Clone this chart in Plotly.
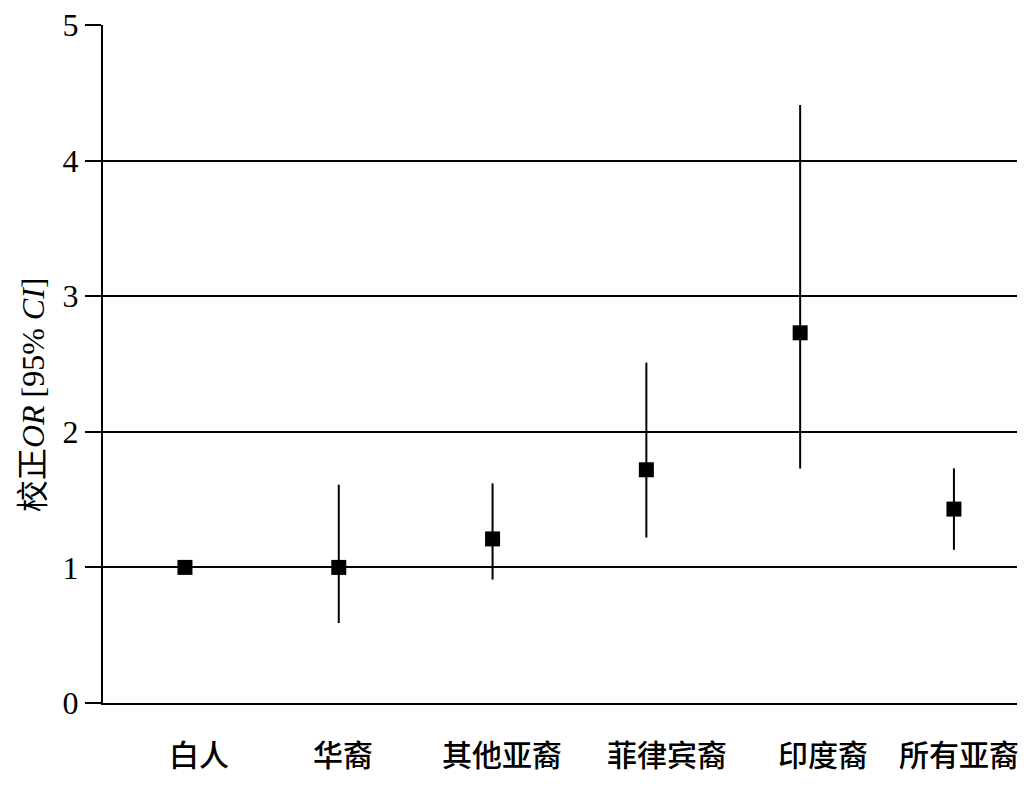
import plotly.graph_objects as go

categories = ["白人", "华裔", "其他亚裔", "菲律宾裔", "印度裔", "所有亚裔"]
or_values = [1.00, 1.00, 1.21, 1.72, 2.73, 1.43]
ci_lower = [1.00, 0.59, 0.91, 1.22, 1.73, 1.13]
ci_upper = [1.00, 1.61, 1.62, 2.51, 4.41, 1.73]
y_ticks = [0, 1, 2, 3, 4, 5]
label_shift = [14, 4, 9, 21, 23, 5]

err_plus = [u - v for u, v in zip(ci_upper, or_values)]
err_minus = [v - l for v, l in zip(or_values, ci_lower)]
xi = list(range(len(categories)))

fig = go.Figure()
fig.add_trace(go.Scatter(
    x=xi, y=or_values, mode="markers",
    marker=dict(symbol="square", size=15, color="black"),
    error_y=dict(type="data", symmetric=False, array=err_plus, arrayminus=err_minus,
                 color="black", thickness=2, width=0),
    showlegend=False,
))

annotations = [dict(
    text="校正<i>OR</i> [95% <i>CI</i>]", textangle=-90,
    xref="paper", yref="paper", x=-0.077, y=0.455, xanchor="center", yanchor="middle",
    showarrow=False,
    font=dict(family="Liberation Serif, Noto Sans CJK SC", size=32, color="black"),
)]
for i, (c, s) in enumerate(zip(categories, label_shift)):
    annotations.append(dict(
        text=c, x=i, y=0, xref="x", yref="paper", xanchor="center", yanchor="middle",
        xshift=s, yshift=-50, showarrow=False,
        font=dict(family="Noto Sans CJK SC", size=30, color="black", weight=500),
    ))

fig.update_layout(
    width=1021, height=780,
    margin=dict(l=95, r=12, t=17, b=85, autoexpand=False),
    paper_bgcolor="white", plot_bgcolor="white",
    xaxis=dict(
        range=[-0.533, 5.41], tickmode="array", tickvals=xi, showticklabels=False,
        showgrid=False, zeroline=False, showline=True, linecolor="black", linewidth=2,
        ticks="", automargin=False,
    ),
    yaxis=dict(
        range=[0, 5], tickmode="array", tickvals=y_ticks,
        showgrid=True, gridcolor="black", gridwidth=2,
        zeroline=False, showline=True, linecolor="black", linewidth=2,
        ticks="outside", ticklen=16, tickwidth=2, tickcolor="black", automargin=False,
        ticklabeloverflow="allow",
        tickfont=dict(family="Liberation Serif", size=32, color="black"),
    ),
    annotations=annotations,
)

fig.write_html("out.html")
